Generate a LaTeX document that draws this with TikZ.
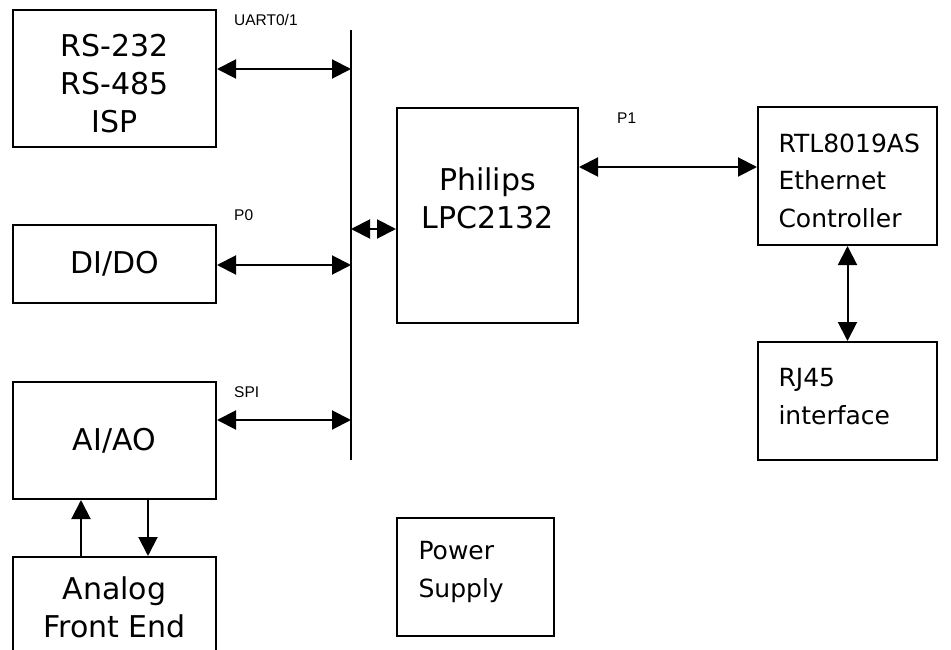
\documentclass[tikz,border=0pt]{standalone}
\usepackage{fontspec}
\setmainfont{DejaVu Sans}
\newfontfamily\labfont{Liberation Sans}
\usetikzlibrary{arrows.meta}
\tikzset{
  blk/.style={draw, line width=2pt, inner sep=0pt},
  big/.style={font=\fontsize{30}{38}\selectfont, align=center},
  mid/.style={font=\fontsize{25}{37.5}\selectfont, align=left},
  lbl/.style={font=\labfont\fontsize{15.5}{17}\selectfont, inner sep=0pt, anchor=west},
  tip/.style={line width=2pt, -{Triangle[length=19pt,width=19pt]}},
  bitip/.style={line width=2pt, {Triangle[length=19pt,width=19pt]}-{Triangle[length=19pt,width=19pt]}},
  busline/.style={line width=2pt}
}
\begin{document}
\begin{tikzpicture}[x=1pt,y=-1pt]
\clip (0,0) rectangle (951,650);
\fill[white] (0,0) rectangle (951,650);
% boxes
\node[blk, minimum width=203pt, minimum height=137pt] (rs) at (114.5,78.5) {};
\node[big] (rstxt) at (114.5,84) {RS-232\\RS-485\\ISP};
\node[blk, big, minimum width=203pt, minimum height=78pt] (dido) at (114.5,264) {DI/DO};
\node[blk, big, minimum width=203pt, minimum height=117pt] (aiao) at (114.5,440.5) {AI/AO};
\node[blk, minimum width=203pt, minimum height=150pt] (analog) at (114.5,632) {};
\node[big, anchor=center] (analogtxt) at (114.5,607) {Analog\\Front End};
\node[blk, big, minimum width=181pt, minimum height=215pt] (lpc) at (487.5,215.5) {};
\node[big] (lpctxt) at (487.5,198) {Philips\\LPC2132};
\node[blk, minimum width=179pt, minimum height=138pt] (rtl) at (847.5,176) {};
\node[mid, anchor=north west] (rtltxt) at (775,130) {RTL8019AS\\Ethernet\\Controller};
\node[blk, minimum width=179pt, minimum height=118pt] (rj) at (847.5,401) {};
\node[mid, anchor=north west] (rjtxt) at (775,365) {RJ45\\interface};
\node[blk, minimum width=157pt, minimum height=118pt] (ps) at (475.5,577) {};
\node[mid, anchor=north west] (pstxt) at (415,538) {Power\\Supply};
% bus
\coordinate (bustop) at (351,30);
\coordinate (busbot) at (351,460);
\draw[busline] (bustop) -- (busbot);
\coordinate (bU) at (351,69);
\coordinate (bP) at (351,265);
\coordinate (bS) at (351,420);
\coordinate (bL) at (351,229);
\coordinate (p1) at (700,167);
\coordinate (ax1) at (81,0);
\coordinate (ax2) at (148,0);
% connectors
\draw[bitip] (bU -| rs.east) -- (bU);
\draw[bitip] (bP -| dido.east) -- (bP);
\draw[bitip] (bS -| aiao.east) -- (bS);
\draw[bitip] (bL) -- (bL -| lpc.west);
\draw[bitip] (p1 -| lpc.east) -- (p1 -| rtl.west);
\draw[bitip] (rtl.south) -- (rj.north);
\draw[tip] (ax1 |- analog.north) -- (ax1 |- aiao.south);
\draw[tip] (ax2 |- aiao.south) -- (ax2 |- analog.north);
% labels
\node[lbl] (luart) at (234,20) {UART0/1};
\node[lbl] (lp0) at (234,215) {P0};
\node[lbl] (lspi) at (234,392) {SPI};
\node[lbl] (lp1) at (617,118) {P1};
\end{tikzpicture}
\end{document}
